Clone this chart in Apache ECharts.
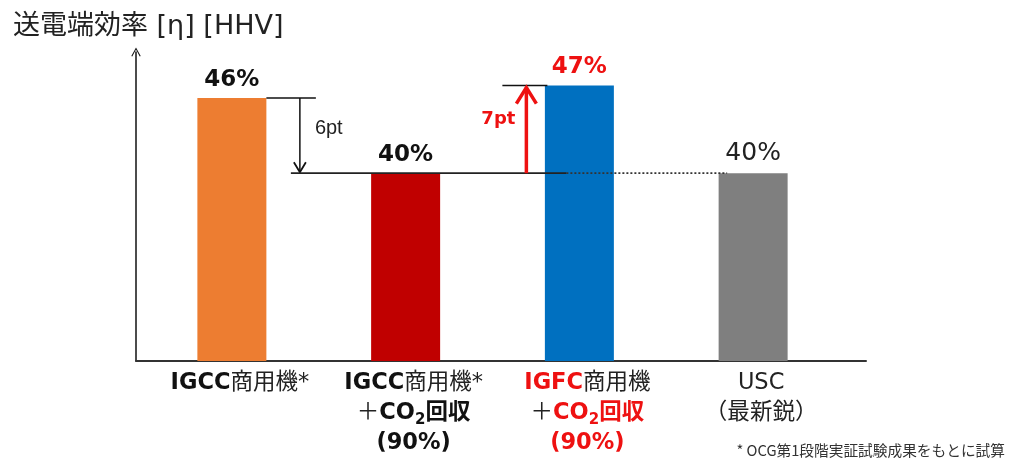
<!DOCTYPE html>
<html>
<head>
<meta charset="utf-8">
<script src="https://cdn.jsdelivr.net/npm/echarts@6/dist/echarts.min.js"></script>
<style>
  html, body { margin: 0; padding: 0; background: #fff; }
  #chart { width: 1011px; height: 459px; }
</style>
</head>
<body>
<div id="chart"></div>
<script>
// data
const categories = ['IGCC商用機*', 'IGCC商用機*＋CO2回収(90%)', 'IGFC商用機＋CO2回収(90%)', 'USC（最新鋭）']
const xLabels = [
  '{b|IGCC}{n|商用機*}',
  '{b|IGCC}{n|商用機*}\n{n|＋}{b|CO}{s|2}{b|回収}\n{b|(90%)}',
  '{rb|IGFC}{n|商用機}\n{n|＋}{rb|CO}{rs|2}{rb|回収}\n{rb|(90%)}',
  '{n|USC}\n{n|（最新鋭）}'
]
const efficiency = [46, 40, 47, 40]
const valueLabels = ['46%', '40%', '47%', '40%']
const gapLabels = ['6pt', '7pt']

const barColors = ['#ED7D31', '#C00000', '#0070C0', '#7F7F7F']
const labelColors = ['#111', '#111', '#EE1111', '#222']
const RED = '#EE1111'
const FONT = 'DejaVu Sans, Noto Sans CJK JP'

const chart = echarts.init(document.getElementById('chart'))

function drawGaps(params, api) {
  const p0 = api.coord([0, efficiency[0]])
  const p1 = api.coord([1, efficiency[1]])
  const p2 = api.coord([2, efficiency[2]])
  const p3 = api.coord([3, efficiency[3]])
  const base = p1[1]
  const half = 34.5
  const c0 = p0[0], c2 = p2[0], c3 = p3[0]
  const ax6 = c0 + 68
  const ax7 = c2 - 53
  return {
    type: 'group',
    children: [
      { type: 'line', shape: { x1: c0 + half, y1: p0[1], x2: c0 + 84, y2: p0[1] }, style: { stroke: '#111', lineWidth: 1.5 } },
      { type: 'line', shape: { x1: ax6, y1: p0[1], x2: ax6, y2: base - 1 }, style: { stroke: '#111', lineWidth: 1.5 } },
      { type: 'polyline', shape: { points: [[ax6 - 6, base - 11], [ax6, base - 1], [ax6 + 6, base - 11]] }, style: { stroke: '#111', lineWidth: 1.8, fill: null } },
      { type: 'text', style: { text: gapLabels[0], x: c0 + 83, y: p0[1] + (base - p0[1]) * 0.4, verticalAlign: 'middle', fill: '#222', font: '20px Liberation Sans, Arial' } },
      { type: 'line', shape: { x1: c0 + 59, y1: base, x2: c2 - 13, y2: base }, style: { stroke: '#222', lineWidth: 1.8 } },
      { type: 'line', shape: { x1: c2 - 13, y1: base, x2: c3 - 26, y2: base }, style: { stroke: '#333', lineWidth: 1.8, lineDash: [2, 2] } },
      { type: 'line', shape: { x1: c2 - 77, y1: p2[1], x2: c2 - 32, y2: p2[1] }, style: { stroke: '#111', lineWidth: 1.5 } },
      { type: 'line', shape: { x1: ax7, y1: base, x2: ax7, y2: p2[1] + 2 }, style: { stroke: RED, lineWidth: 3.5 } },
      { type: 'polyline', shape: { points: [[ax7 - 10, p2[1] + 18], [ax7, p2[1] + 2], [ax7 + 10, p2[1] + 18]] }, style: { stroke: RED, lineWidth: 3.5, fill: null } },
      { type: 'text', style: { text: gapLabels[1], x: ax7 - 28, y: p2[1] + (base - p2[1]) * 0.38, align: 'center', verticalAlign: 'middle', fill: RED, font: 'bold 18px ' + FONT } }
    ]
  }
}

const chevron = 'path://M0,9 L5,0 L10,9 L9,9.6 L5,2.2 L1,9.6 Z'

chart.setOption({
  animation: false,
  title: {
    text: '送電端効率 [η] [HHV]',
    left: 8,
    top: 8,
    textStyle: { fontFamily: FONT, fontWeight: 'normal', fontSize: 27, color: '#222' }
  },
  grid: [
    { left: 145, right: 171, top: 48, bottom: 98 },
    { left: 136, right: 145, top: 52, bottom: 98 }
  ],
  xAxis: [
    {
      type: 'category',
      gridIndex: 0,
      data: categories,
      axisLine: { show: false },
      axisTick: { show: false },
      axisLabel: {
        interval: 0,
        margin: 7,
        padding: [0, 0, 0, 16],
        formatter: (v, i) => xLabels[i],
        rich: {
          n: { fontFamily: FONT, fontSize: 22.5, color: '#222', lineHeight: 30 },
          b: { fontFamily: FONT, fontWeight: 'bold', fontSize: 22.5, color: '#111', lineHeight: 30 },
          s: { fontFamily: FONT, fontWeight: 'bold', fontSize: 15, color: '#111', lineHeight: 16, verticalAlign: 'bottom' },
          rb: { fontFamily: FONT, fontWeight: 'bold', fontSize: 22.5, color: RED, lineHeight: 30 },
          rs: { fontFamily: FONT, fontWeight: 'bold', fontSize: 15, color: RED, lineHeight: 16, verticalAlign: 'bottom' }
        }
      }
    },
    {
      type: 'value',
      gridIndex: 1,
      min: 0,
      max: 1,
      axisLine: { show: true, lineStyle: { color: '#333', width: 2 } },
      axisTick: { show: false },
      axisLabel: { show: false },
      splitLine: { show: false }
    }
  ],
  yAxis: [
    {
      type: 'value',
      gridIndex: 0,
      min: 25,
      max: 50,
      show: false,
      splitLine: { show: false }
    },
    {
      type: 'value',
      gridIndex: 1,
      min: 0,
      max: 1,
      axisLine: {
        show: true,
        symbol: ['none', chevron],
        symbolSize: [10, 9],
        lineStyle: { color: '#111', width: 1.5 }
      },
      axisTick: { show: false },
      axisLabel: { show: false },
      splitLine: { show: false }
    }
  ],
  series: [
    {
      type: 'bar',
      xAxisIndex: 0,
      yAxisIndex: 0,
      barWidth: 69,
      data: efficiency.map((v, i) => ({
        value: v,
        itemStyle: { color: barColors[i] },
        label: {
          color: labelColors[i],
          fontWeight: i === 3 ? 'normal' : 'bold',
          fontSize: i === 3 ? 25 : 23
        }
      })),
      label: {
        show: true,
        position: 'top',
        distance: 7,
        fontFamily: FONT,
        formatter: p => valueLabels[p.dataIndex]
      }
    },
    {
      type: 'custom',
      xAxisIndex: 0,
      yAxisIndex: 0,
      clip: false,
      z: 5,
      silent: true,
      data: [[0, efficiency[0]]],
      renderItem: drawGaps
    }
  ],
  graphic: [
    {
      type: 'text',
      right: 6,
      bottom: 1,
      style: { text: '* OCG第1段階実証試験成果をもとに試算', font: '14.7px Noto Sans CJK JP', fill: '#333' }
    }
  ]
})
</script>
</body>
</html>
